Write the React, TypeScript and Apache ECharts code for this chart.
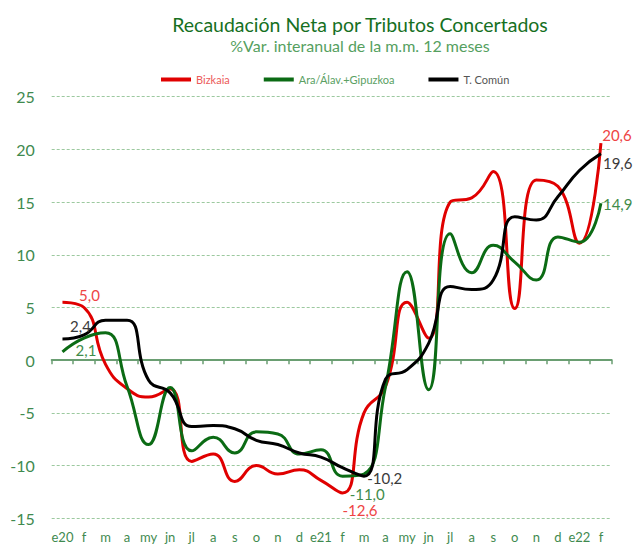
import React, { useEffect, useRef } from "react";
import * as echarts from "echarts";

const categories = ["e20", "f", "m", "a", "my", "jn", "jl", "a", "s", "o", "n", "d", "e21", "f", "m", "a", "my", "jn", "jl", "a", "s", "o", "n", "d", "e22", "f"];

const bizkaia = [5.5, 5.0, -0.4, -2.7, -3.5, -2.7, -9.6, -8.9, -11.5, -10.0, -10.8, -10.4, -11.4, -12.6, -5.0, -2.5, 5.5, 2.1, 15.0, 15.4, 17.9, 4.9, 17.1, 16.5, 11.1, 20.6];
const araGipuzkoa = [0.8, 2.1, 2.6, -2.5, -8.0, -2.6, -8.6, -7.3, -8.8, -6.8, -7.0, -8.9, -8.5, -11.0, -10.8, -2.5, 8.4, -2.8, 12.0, 8.3, 10.9, 9.3, 7.6, 11.7, 11.2, 14.9];
const tComun = [2.0, 2.4, 3.8, 3.8, -1.9, -3.1, -6.3, -6.2, -6.5, -7.6, -8.0, -8.8, -9.2, -10.2, -11.0, -1.8, -0.9, 1.6, 7.0, 6.7, 7.6, 13.6, 13.3, 15.5, 18.0, 19.6];

const seriesNames = ["Bizkaia", "Ara/Álav.+Gipuzkoa", "T. Común"];
const labelledIdx = [1, 13, 25];

const FONT = "Lato, 'Noto Sans', sans-serif";

type LabelPos = { position: string; offset: number[] };
const labelLayout: Record<string, Record<number, LabelPos>> = {
  "Bizkaia": {
    1: { position: "top", offset: [5.5, -1] },
    13: { position: "bottom", offset: [17.5, 5.5] },
    25: { position: "top", offset: [16, 3.6] },
  },
  "Ara/Álav.+Gipuzkoa": {
    1: { position: "bottom", offset: [2, 0] },
    13: { position: "bottom", offset: [24.7, 6.5] },
    25: { position: "right", offset: [-3, 1.2] },
  },
  "T. Común": {
    1: { position: "top", offset: [-3.5, 2.4] },
    13: { position: "right", offset: [19.7, 10.4] },
    25: { position: "right", offset: [-3, 9.7] },
  },
};

const fmt = (v: number) => v.toFixed(1).replace(".", ",");

export default function App() {
  const ref = useRef<HTMLDivElement>(null);
  useEffect(() => {
    if (!ref.current) return;
    const chart = echarts.init(ref.current, undefined, { renderer: "svg" });
    const lineColors = ["#e00000", "#0b6b14", "#000000"];
    const labelColors = ["#ee4444", "#3f8c4a", "#3a3a3a"];
    const legendTextColors = ["#ec5a5a", "#5aa063", "#555555"];
    const values = [bizkaia, araGipuzkoa, tComun];

    const series = seriesNames.map((name, s) => ({
      name,
      type: "line",
      xAxisIndex: 0,
      smooth: 0.5,
      showSymbol: true,
      symbol: "circle",
      symbolSize: 0,
      lineStyle: { width: 3, color: lineColors[s] },
      itemStyle: { color: lineColors[s] },
      emphasis: { disabled: true },
      data: values[s].map((v, i) =>
        labelledIdx.includes(i)
          ? {
              value: v,
              label: {
                show: true,
                position: labelLayout[name][i].position,
                offset: labelLayout[name][i].offset,
                formatter: (p: any) => fmt(p.value),
                color: labelColors[s],
                fontSize: 15,
                lineHeight: 13,
                fontFamily: FONT,
              },
            }
          : v
      ),
    }));

    chart.setOption({
      animation: false,
      title: [
        {
          text: "Recaudación Neta por Tributos Concertados",
          left: 355,
          top: 9,
          textAlign: "center",
          textStyle: { fontFamily: FONT, fontSize: 19.5, fontWeight: "normal", color: "#16701f" },
        },
        {
          text: "%Var. interanual de la m.m. 12 meses",
          left: 355,
          top: 32,
          textAlign: "center",
          textStyle: { fontFamily: FONT, fontSize: 16, fontWeight: "normal", color: "#55a060" },
        },
      ],
      legend: {
        data: seriesNames.map((n, i) => ({
          name: n,
          textStyle: { color: legendTextColors[i] },
        })),
        left: 156,
        top: 69,
        icon: "rect",
        itemWidth: 30,
        itemHeight: 4,
        itemGap: 34,
        textStyle: { fontFamily: FONT, fontSize: 11 },
      },
      grid: { left: 51.7, right: 23.3, top: 96.7, bottom: 27.7, containLabel: false },
      xAxis: [
        {
          type: "category",
          data: categories,
          position: "bottom",
          boundaryGap: true,
          axisLine: { show: false, onZero: false },
          axisTick: { show: false },
          axisLabel: { fontFamily: FONT, fontSize: 13, color: "#3f8a4f", margin: 12, interval: 0 },
          splitLine: { show: false },
        },
        {
          type: "category",
          data: categories,
          position: "top",
          boundaryGap: true,
          axisLine: { show: true, onZero: true, lineStyle: { color: "#6a9e72", width: 2 } },
          axisTick: { show: true, inside: true, length: 4, interval: 0, lineStyle: { color: "#6a9e72", width: 1.5 } },
          axisLabel: { show: false },
          splitLine: { show: false },
        },
      ],
      yAxis: {
        type: "value",
        min: -15,
        max: 25,
        interval: 5,
        axisLine: { show: false },
        axisTick: { show: false },
        axisLabel: { fontFamily: FONT, fontSize: 16, color: "#3f8a4f", margin: 17 },
        splitLine: { show: true, lineStyle: { type: [3, 2], color: "#9cc99f", width: 1 } },
      },
      series,
    });
    return () => chart.dispose();
  }, []);
  return (
    <div
      ref={ref}
      style={{ position: "fixed", left: 0, top: 0, width: 635, height: 546, background: "#fff" }}
    />
  );
}
